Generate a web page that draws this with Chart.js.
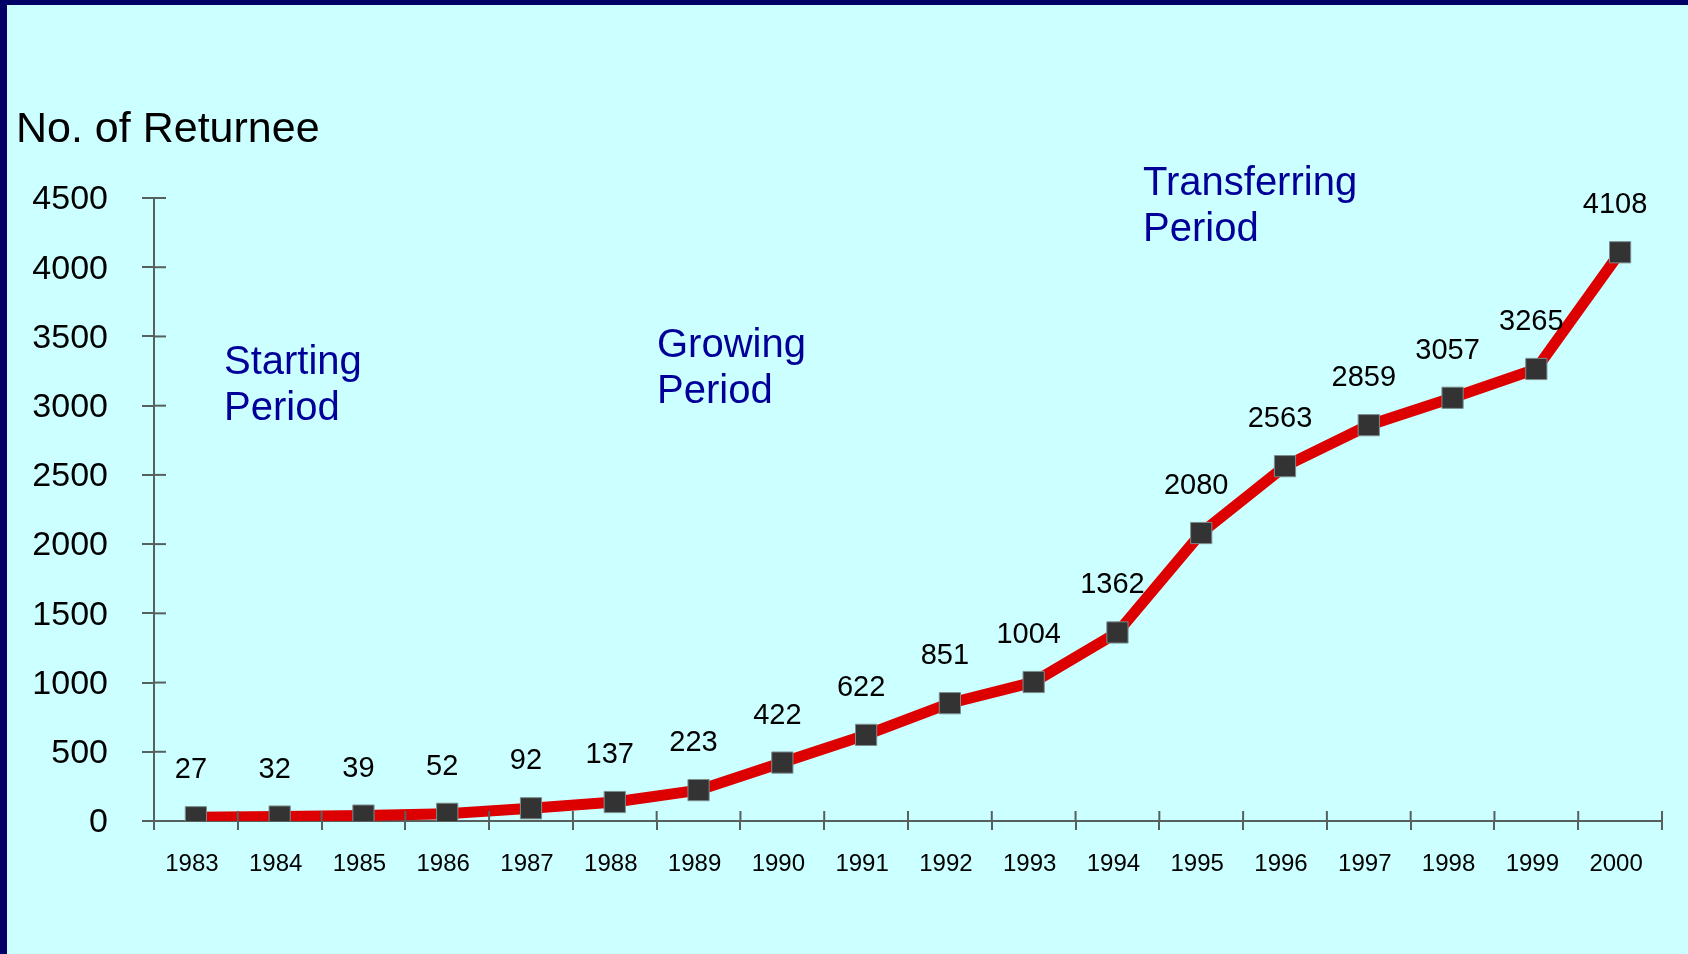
<!DOCTYPE html>
<html>
<head>
<meta charset="utf-8">
<script src="https://cdn.jsdelivr.net/npm/chart.js@4"></script>
<style>
  html, body { margin: 0; padding: 0; background: #ccffff; overflow: hidden; }
  canvas { display: block; }
</style>
</head>
<body>
<canvas id="returneeChart" width="1688" height="954"></canvas>
<script>
  const years = ["1983", "1984", "1985", "1986", "1987", "1988", "1989", "1990", "1991",
                 "1992", "1993", "1994", "1995", "1996", "1997", "1998", "1999", "2000"];
  const returnees = [27, 32, 39, 52, 92, 137, 223, 422, 622,
                     851, 1004, 1362, 2080, 2563, 2859, 3057, 3265, 4108];
  const yTicks = [0, 500, 1000, 1500, 2000, 2500, 3000, 3500, 4000, 4500];
  const periods = [
    { lines: ["Starting", "Period"], x: 224, y: 374, size: 40 },
    { lines: ["Growing", "Period"], x: 657, y: 357, size: 40 },
    { lines: ["Transferring", "Period"], x: 1143, y: 195, size: 40 }
  ];

  const FONT = "'Liberation Sans', Arial, sans-serif";
  const AXIS = "#56605f";

  // background, frame, title and period notes
  const decorPlugin = {
    id: 'decor',
    beforeDraw(chart) {
      const { ctx, width, height } = chart;
      ctx.save();
      ctx.fillStyle = "#ccffff";
      ctx.fillRect(0, 0, width, height);
      ctx.fillStyle = "#000066";
      ctx.fillRect(0, 0, 7, height);
      ctx.fillRect(0, 0, width, 5);

      ctx.fillStyle = "#000000";
      ctx.font = "43px " + FONT;
      ctx.textBaseline = "alphabetic";
      ctx.fillText("No. of Returnee", 16, 142);

      ctx.fillStyle = "#000099";
      for (const p of periods) {
        ctx.font = p.size + "px " + FONT;
        p.lines.forEach((l, i) => ctx.fillText(l, p.x, p.y + i * 46));
      }
      ctx.restore();
    }
  };

  // ticks crossing the axes + value labels
  const extrasPlugin = {
    id: 'extras',
    afterDraw(chart) {
      const { ctx, scales } = chart;
      const x = scales.x, y = scales.y;
      ctx.save();
      ctx.strokeStyle = AXIS;
      ctx.lineWidth = 2;
      // inner half of the y ticks
      for (let i = 0; i < y.ticks.length; i++) {
        const py = y.getPixelForTick(i);
        ctx.beginPath();
        ctx.moveTo(x.left, py);
        ctx.lineTo(x.left + 12, py);
        ctx.stroke();
      }
      // inner half of the x ticks (between categories)
      const step = (x.right - x.left) / years.length;
      for (let i = 0; i <= years.length; i++) {
        const px = x.left + i * step;
        ctx.beginPath();
        ctx.moveTo(px, y.bottom);
        ctx.lineTo(px, y.bottom - 10);
        ctx.stroke();
      }

      const meta = chart.getDatasetMeta(0);
      ctx.fillStyle = "#000000";
      ctx.font = "29px " + FONT;
      ctx.textAlign = "center";
      ctx.textBaseline = "middle";
      meta.data.forEach((pt, i) => {
        ctx.fillText(String(returnees[i]), pt.x - 5, pt.y - 47);
      });
      ctx.restore();
    }
  };

  new Chart(document.getElementById("returneeChart"), {
    type: 'line',
    data: {
      labels: years,
      datasets: [{
        data: returnees,
        borderColor: "#dd0000",
        borderWidth: 11,
        tension: 0,
        pointStyle: 'rect',
        pointRadius: 15,
        pointHoverRadius: 15,
        pointBackgroundColor: "#333333",
        pointBorderColor: "#7d8d8d",
        pointBorderWidth: 1
      }]
    },
    options: {
      responsive: false,
      animation: false,
      events: [],
      layout: { padding: { left: 0, right: 26, top: 198, bottom: 0 } },
      scales: {
        x: {
          type: 'category',
          offset: true,
          grid: {
            display: true,
            offset: true,
            drawOnChartArea: false,
            drawTicks: true,
            tickLength: 9,
            color: AXIS,
            lineWidth: 2
          },
          border: { display: true, color: AXIS, width: 2 },
          ticks: {
            color: "#000000",
            font: { family: FONT, size: 24 },
            padding: 20,
            labelOffset: -4,
            maxRotation: 0,
            autoSkip: false
          },
          afterFit(scale) { scale.height = 133; }
        },
        y: {
          min: 0,
          max: 4500,
          afterBuildTicks(scale) { scale.ticks = yTicks.map(v => ({ value: v })); },
          grid: {
            display: true,
            drawOnChartArea: false,
            drawTicks: true,
            tickLength: 12,
            color: AXIS,
            lineWidth: 2
          },
          border: { display: true, color: AXIS, width: 2 },
          ticks: {
            color: "#000000",
            font: { family: FONT, size: 34 },
            padding: 34,
            labelOffset: 2,
            callback: (v) => String(v)
          },
          afterFit(scale) { scale.width = 154; }
        }
      },
      plugins: {
        legend: { display: false },
        tooltip: { enabled: false }
      }
    },
    plugins: [decorPlugin, extrasPlugin]
  });
</script>
</body>
</html>
